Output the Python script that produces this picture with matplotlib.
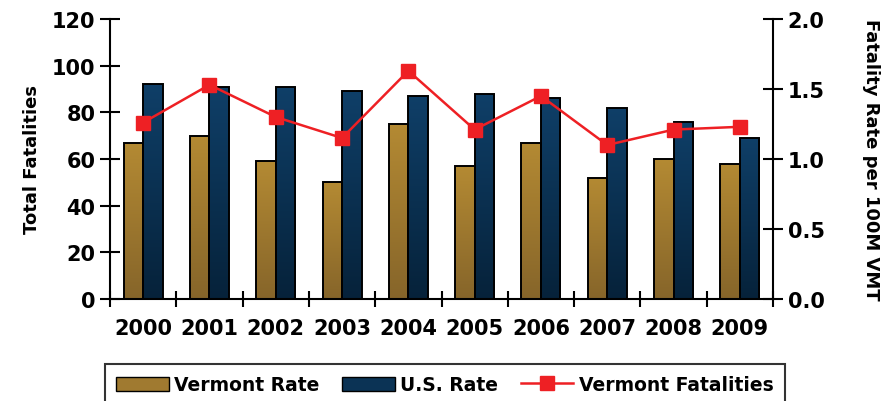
import numpy as np
import matplotlib.pyplot as plt
from matplotlib.colors import LinearSegmentedColormap
from matplotlib.lines import Line2D
from matplotlib.patches import Patch

years = ['2000', '2001', '2002', '2003', '2004', '2005', '2006', '2007', '2008', '2009']
vermont_rate = [67, 70, 59, 50, 75, 57, 67, 52, 60, 58]
us_rate = [92, 91, 91, 89, 87, 88, 86, 82, 76, 69]
vermont_fatalities = [1.26, 1.53, 1.30, 1.15, 1.63, 1.21, 1.45, 1.10, 1.21, 1.23]

plt.rcParams['font.family'] = ['DejaVu Sans']

gold = LinearSegmentedColormap.from_list('gold', ['#86652a', '#b48a33'])
blue = LinearSegmentedColormap.from_list('blue', ['#06223a', '#0f3f68'])
red = '#ee2024'

fig = plt.figure(figsize=(8.9, 4.02), dpi=100)
ax = fig.add_axes([110 / 890, 1 - 300 / 402, 663 / 890, 280 / 402])

x = np.arange(len(years))
width = 0.294


def gradient_bars(xs, heights, cmap):
    bars = ax.bar(xs, heights, width, facecolor='none', edgecolor='black',
                  linewidth=1.4, zorder=3)
    grad = np.linspace(0, 1, 256).reshape(-1, 1)
    for b in bars:
        x0, y0 = b.get_x(), b.get_y()
        im = ax.imshow(grad, cmap=cmap, origin='lower', aspect='auto',
                       extent=[x0, x0 + b.get_width(), y0, y0 + b.get_height()],
                       zorder=2)
        im.set_clip_path(b)
    return bars


gradient_bars(x - width / 2, vermont_rate, gold)
gradient_bars(x + width / 2, us_rate, blue)

ax.set_xlim(-0.5, len(years) - 0.5)
ax.set_ylim(0, 120)
ax.set_yticks(np.arange(0, 121, 20))
ax.set_xticks(np.arange(-0.5, len(years), 1))
ax.set_xticklabels([])
ax.set_xticks(x, minor=True)
ax.set_xticklabels(years, minor=True, fontsize=15, fontweight='bold')
ax.tick_params(axis='x', which='minor', length=0, pad=14)
ax.tick_params(axis='x', which='major', direction='inout', length=12, width=1.5)
ax.tick_params(axis='y', direction='inout', length=14, width=1.5, labelsize=15)
for lab in ax.get_yticklabels():
    lab.set_fontweight('bold')
ax.spines['top'].set_visible(False)
ax.spines['right'].set_visible(False)
for s in ['left', 'bottom']:
    ax.spines[s].set_linewidth(1.5)
ax.set_ylabel('Total Fatalities', fontsize=13, fontweight='bold', labelpad=8)

ax2 = ax.twinx()
ax2.plot(x, vermont_fatalities, color=red, linewidth=1.8, marker='s',
         markersize=10, zorder=5)
ax2.set_ylim(0, 2)
ax2.set_yticks(np.arange(0, 2.01, 0.5))
ax2.set_yticklabels(['%.1f' % v for v in np.arange(0, 2.01, 0.5)])
ax2.tick_params(axis='y', direction='inout', length=14, width=1.5, labelsize=15)
for lab in ax2.get_yticklabels():
    lab.set_fontweight('bold')
ax2.spines['top'].set_visible(False)
ax2.spines['left'].set_visible(False)
ax2.spines['bottom'].set_visible(False)
ax2.spines['right'].set_linewidth(1.5)
ax2.set_ylabel('Fatality Rate per 100M VMT', fontsize=13, fontweight='bold',
               rotation=270, labelpad=40)

handles = [Patch(facecolor='#a07a30', edgecolor='black', label='Vermont Rate'),
           Patch(facecolor='#0b3355', edgecolor='black', label='U.S. Rate'),
           Line2D([0], [0], color=red, linewidth=1.8, marker='s', markersize=10,
                  label='Vermont Fatalities')]
leg = fig.legend(handles=handles, loc='upper center', ncol=3,
                 bbox_to_anchor=(445 / 890, 1 - 365 / 402), fontsize=13.5,
                 frameon=True, fancybox=False, edgecolor='black',
                 handlelength=2.8, handleheight=0.8, columnspacing=1.2,
                 handletextpad=0.3, borderpad=0.6, borderaxespad=0)
leg.get_frame().set_linewidth(1.5)
for t in leg.get_texts():
    t.set_fontweight('bold')

fig.savefig('out.png', dpi=100)
